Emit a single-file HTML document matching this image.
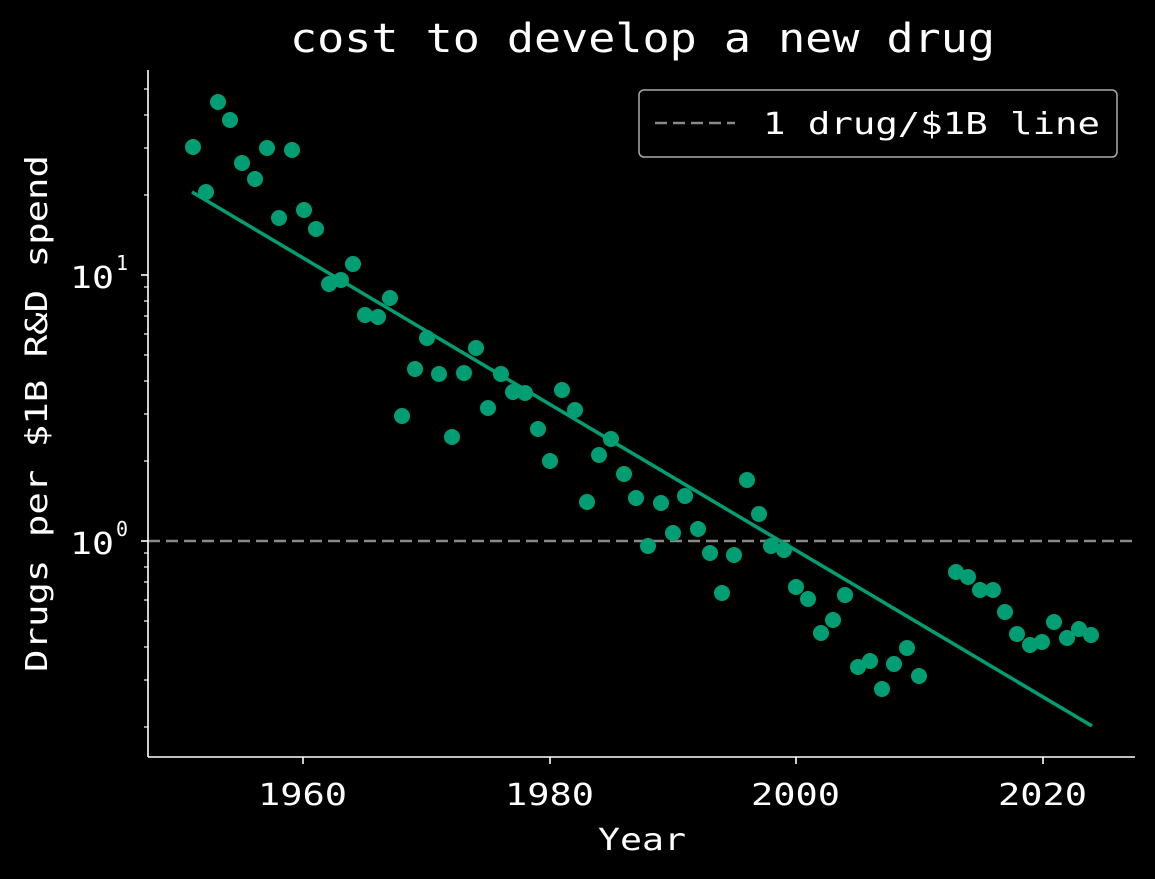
<!DOCTYPE html>
<html><head><meta charset="utf-8"><style>html,body{margin:0;background:#000;}svg{display:block}</style></head>
<body>
<svg width="1155" height="879" viewBox="0 0 1155 879" xmlns="http://www.w3.org/2000/svg" font-family="'DejaVu Sans Mono','Liberation Mono',monospace" fill="#fff">
<rect width="1155" height="879" fill="#000"/>
<text x="290" y="52" font-size="40" textLength="705" lengthAdjust="spacingAndGlyphs">cost to develop a new drug</text>
<line x1="148" y1="541" x2="1135" y2="541" stroke="#888" stroke-width="2.5" stroke-dasharray="12,6"/>
<g fill="#029e73">
<circle cx="193" cy="147" r="8"/><circle cx="206" cy="192" r="8"/><circle cx="218" cy="102" r="8"/><circle cx="230" cy="120" r="8"/><circle cx="242" cy="163" r="8"/><circle cx="255" cy="179" r="8"/><circle cx="267" cy="148" r="8"/><circle cx="279" cy="218" r="8"/><circle cx="292" cy="150" r="8"/><circle cx="304" cy="210" r="8"/><circle cx="316" cy="229" r="8"/><circle cx="329" cy="284" r="8"/><circle cx="341" cy="280" r="8"/><circle cx="353" cy="264" r="8"/><circle cx="365" cy="315" r="8"/><circle cx="378" cy="317" r="8"/><circle cx="390" cy="298" r="8"/><circle cx="402" cy="416" r="8"/><circle cx="415" cy="369" r="8"/><circle cx="427" cy="338" r="8"/><circle cx="439" cy="374" r="8"/><circle cx="452" cy="437" r="8"/><circle cx="464" cy="373" r="8"/><circle cx="476" cy="348" r="8"/><circle cx="488" cy="408" r="8"/><circle cx="501" cy="374" r="8"/><circle cx="513" cy="392" r="8"/><circle cx="525" cy="393" r="8"/><circle cx="538" cy="429" r="8"/><circle cx="550" cy="461" r="8"/><circle cx="562" cy="390" r="8"/><circle cx="575" cy="410" r="8"/><circle cx="587" cy="502" r="8"/><circle cx="599" cy="455" r="8"/><circle cx="611" cy="439" r="8"/><circle cx="624" cy="474" r="8"/><circle cx="636" cy="498" r="8"/><circle cx="648" cy="546" r="8"/><circle cx="661" cy="503" r="8"/><circle cx="673" cy="533" r="8"/><circle cx="685" cy="496" r="8"/><circle cx="698" cy="529" r="8"/><circle cx="710" cy="553" r="8"/><circle cx="722" cy="593" r="8"/><circle cx="734" cy="555" r="8"/><circle cx="747" cy="480" r="8"/><circle cx="759" cy="514" r="8"/><circle cx="771" cy="546" r="8"/><circle cx="784" cy="550" r="8"/><circle cx="796" cy="587" r="8"/><circle cx="808" cy="599" r="8"/><circle cx="821" cy="633" r="8"/><circle cx="833" cy="620" r="8"/><circle cx="845" cy="595" r="8"/><circle cx="858" cy="667" r="8"/><circle cx="870" cy="661" r="8"/><circle cx="882" cy="689" r="8"/><circle cx="894" cy="664" r="8"/><circle cx="907" cy="648" r="8"/><circle cx="919" cy="676" r="8"/><circle cx="956" cy="572" r="8"/><circle cx="968" cy="577" r="8"/><circle cx="980" cy="590" r="8"/><circle cx="993" cy="590" r="8"/><circle cx="1005" cy="612" r="8"/><circle cx="1017" cy="634" r="8"/><circle cx="1030" cy="645" r="8"/><circle cx="1042" cy="642" r="8"/><circle cx="1054" cy="622" r="8"/><circle cx="1067" cy="638" r="8"/><circle cx="1079" cy="629" r="8"/><circle cx="1091" cy="635" r="8"/>
</g>
<line x1="192" y1="192" x2="1092" y2="726" stroke="#029e73" stroke-width="3.5"/>
<g stroke="#fff" stroke-width="1.6">
<line x1="148" y1="70" x2="148" y2="757"/><line x1="148" y1="757" x2="1135" y2="757"/>
<line x1="303" y1="757" x2="303" y2="764"/><line x1="550" y1="757" x2="550" y2="764"/><line x1="796" y1="757" x2="796" y2="764"/><line x1="1043" y1="757" x2="1043" y2="764"/>
<line x1="141" y1="275" x2="148" y2="275"/><line x1="141" y1="541" x2="148" y2="541"/>
<g stroke-width="1.2">
<line x1="144" y1="727" x2="148" y2="727"/><line x1="144" y1="680" x2="148" y2="680"/><line x1="144" y1="647" x2="148" y2="647"/><line x1="144" y1="621" x2="148" y2="621"/><line x1="144" y1="600" x2="148" y2="600"/><line x1="144" y1="582" x2="148" y2="582"/><line x1="144" y1="567" x2="148" y2="567"/><line x1="144" y1="553" x2="148" y2="553"/>
<line x1="144" y1="461" x2="148" y2="461"/><line x1="144" y1="414" x2="148" y2="414"/><line x1="144" y1="381" x2="148" y2="381"/><line x1="144" y1="355" x2="148" y2="355"/><line x1="144" y1="334" x2="148" y2="334"/><line x1="144" y1="316" x2="148" y2="316"/><line x1="144" y1="301" x2="148" y2="301"/><line x1="144" y1="287" x2="148" y2="287"/>
<line x1="144" y1="195" x2="148" y2="195"/><line x1="144" y1="148" x2="148" y2="148"/><line x1="144" y1="115" x2="148" y2="115"/><line x1="144" y1="89" x2="148" y2="89"/>
</g></g>
<g font-size="30" lengthAdjust="spacingAndGlyphs">
<text x="258" y="805" textLength="89" lengthAdjust="spacingAndGlyphs">1960</text><text x="505" y="805" textLength="89" lengthAdjust="spacingAndGlyphs">1980</text><text x="751" y="805" textLength="89" lengthAdjust="spacingAndGlyphs">2000</text><text x="998" y="805" textLength="89" lengthAdjust="spacingAndGlyphs">2020</text>
<text x="598" y="850" textLength="88" lengthAdjust="spacingAndGlyphs">Year</text>
</g>
<g font-size="30">
<text x="70" y="288" textLength="44" lengthAdjust="spacingAndGlyphs">10</text><text x="116" y="270" font-size="20">1</text>
<text x="70" y="554" textLength="44" lengthAdjust="spacingAndGlyphs">10</text><text x="116" y="536" font-size="20">0</text>
</g>
<text transform="translate(47,672) rotate(-90)" font-size="30" textLength="517" lengthAdjust="spacingAndGlyphs">Drugs per $1B R&amp;D spend</text>
<rect x="639" y="90" width="478" height="67" rx="5" fill="#000" stroke="#aaa" stroke-width="1.5"/>
<line x1="655" y1="123" x2="735" y2="123" stroke="#888" stroke-width="2.5" stroke-dasharray="12,6"/>
<text x="763" y="134" font-size="30" textLength="337" lengthAdjust="spacingAndGlyphs">1 drug/$1B line</text>
</svg>
</body></html>
